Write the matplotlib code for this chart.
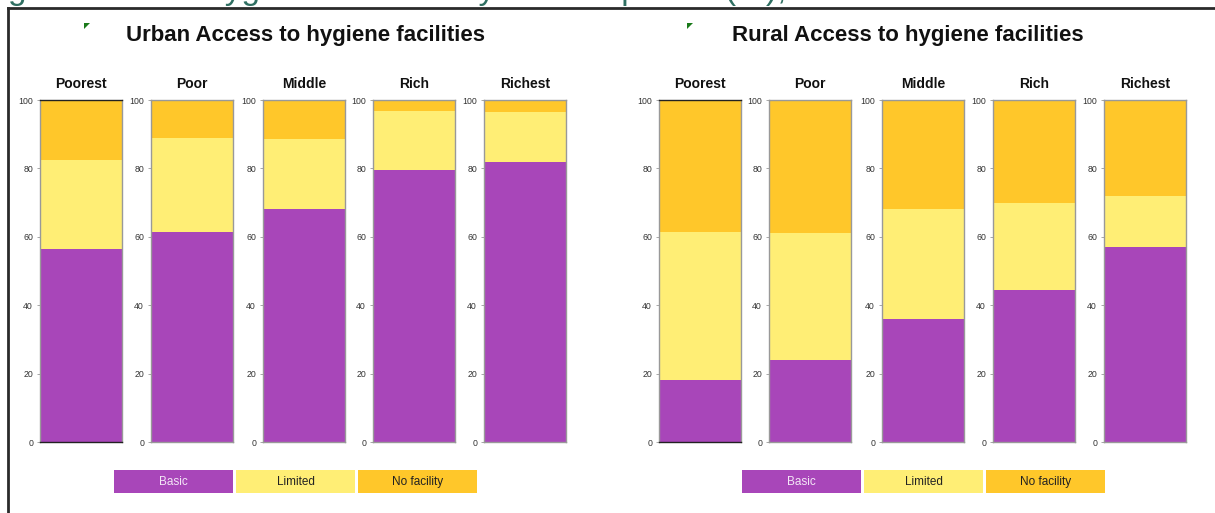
import matplotlib.pyplot as plt
from matplotlib.patches import Rectangle, Polygon
from matplotlib.lines import Line2D

plt.rcParams['font.family'] = ['Liberation Sans', 'DejaVu Sans']

quintiles = ["Poorest", "Poor", "Middle", "Rich", "Richest"]
categories = ["Basic", "Limited", "No facility"]

urban_basic = [56.5, 61.5, 68.0, 79.5, 82.0]
urban_limited = [26.0, 27.5, 20.5, 17.3, 14.5]
urban_none = [17.5, 11.0, 11.5, 3.2, 3.5]

rural_basic = [18.0, 24.0, 36.0, 44.5, 57.0]
rural_limited = [43.5, 37.0, 32.0, 25.5, 15.0]
rural_none = [38.5, 39.0, 32.0, 30.0, 28.0]

colors = ["#A846B9", "#FFEE75", "#FFC72A"]
text_colors = ["#F3E6F6", "#222222", "#222222"]

W, H = 1215, 513
fig = plt.figure(figsize=(W / 100, H / 100), dpi=100)


def box(x0, y0, x1, y1):
    # pixel box (top-left origin) -> figure fraction rect
    return [x0 / W, 1 - y1 / H, (x1 - x0) / W, (y1 - y0) / H]


def panel(title, title_x, ax_lefts, basic, limited, none, legend_x):
    fig.text(title_x / W, 1 - 36 / H, title, ha="center", va="center",
             fontsize=16, fontweight="bold", color="#111111")
    for i, (name, left) in enumerate(zip(quintiles, ax_lefts)):
        ax = fig.add_axes(box(left, 100, left + 82, 442))
        bottom = 0
        for vals, c in zip([basic, limited, none], colors):
            ax.bar([0], [vals[i]], bottom=bottom, width=1, color=c,
                   edgecolor="none")
            bottom += vals[i]
        ax.set_xlim(-0.5, 0.5)
        ax.set_ylim(0, 100)
        ax.set_xticks([])
        ax.set_yticks([0, 20, 40, 60, 80, 100])
        ax.tick_params(axis="y", labelsize=6.3, length=2, width=0.6,
                       colors="#999999", labelcolor="#333333", pad=3)
        for side in ["left", "right", "top", "bottom"]:
            ax.spines[side].set_color("#999999")
            ax.spines[side].set_linewidth(1.0)
        if i == 0:
            ax.spines["top"].set_color("#222222")
            ax.spines["bottom"].set_color("#222222")
        ax.set_title(name, fontsize=10, fontweight="bold", pad=9,
                     color="#111111")
    # legend as coloured boxes with the label inside
    for j, (lab, c, tc) in enumerate(zip(categories, colors, text_colors)):
        x0 = legend_x + j * 122
        fig.patches.append(Rectangle((x0 / W, 1 - 493 / H), 119 / W, 23 / H,
                                     transform=fig.transFigure, facecolor=c,
                                     edgecolor="none"))
        fig.text((x0 + 59.5) / W, 1 - 482 / H, lab, ha="center", va="center",
                 fontsize=8.5, color=tc)
    # small green marker at the top-left of the chart area
    mx = title_x - 221
    fig.patches.append(Polygon([(mx / W, 1 - 23 / H), ((mx + 6) / W, 1 - 23 / H),
                                (mx / W, 1 - 29 / H)], closed=True,
                               transform=fig.transFigure, facecolor="#1a7a1a",
                               edgecolor="none"))


panel("Urban Access to hygiene facilities", 305, [40, 151, 263, 373, 484],
      urban_basic, urban_limited, urban_none, 114)
panel("Rural Access to hygiene facilities", 908, [659, 769, 882, 993, 1104],
      rural_basic, rural_limited, rural_none, 742)

# frame around the charts
fig.lines.append(Line2D([8 / W, 1], [1 - 8 / H, 1 - 8 / H],
                        transform=fig.transFigure, color="#2a2a2a", lw=2))
fig.lines.append(Line2D([8 / W, 8 / W], [0, 1 - 8 / H],
                        transform=fig.transFigure, color="#2a2a2a", lw=2))

# heading above the frame; only its descenders fall inside the figure
fig.text(8 / W, 1 + 1 / H,
         "ge Access to hygiene facilities by wealth quintile (%), 2019",
         ha="left", va="baseline", fontsize=24, color="#2f6f62")

fig.savefig("out.png", dpi=100)
